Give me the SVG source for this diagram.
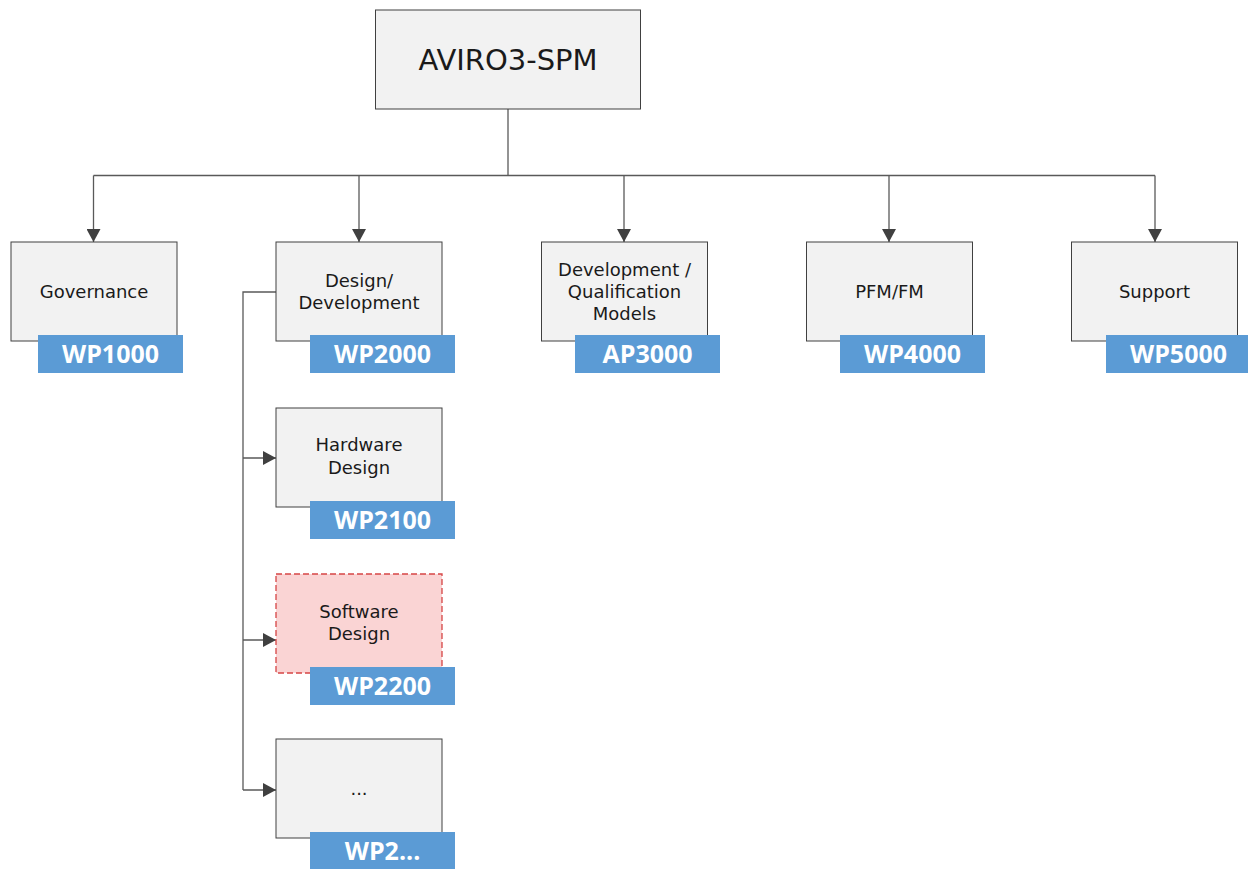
<svg xmlns="http://www.w3.org/2000/svg" width="1248" height="869" viewBox="0 0 1248 869">
  <defs>
    <marker id="arrow" viewBox="0 0 13 14" refX="13" refY="7" markerWidth="13" markerHeight="14" markerUnits="userSpaceOnUse" orient="auto">
      <path d="M0,0 L13,7 L0,14 Z" fill="#404040"/>
    </marker>
    <style>
      .box { fill: #f2f2f2; stroke: #404040; stroke-width: 1; }
      .box-sw { fill: #fad4d4; stroke: #d64545; stroke-width: 1.3; stroke-dasharray: 6 3; }
      .tag { fill: #5b9bd5; }
      .txt { font-family: "DejaVu Sans", Verdana, sans-serif; font-size: 18px; fill: #1a1a1a; text-anchor: middle; }
      .title { font-family: "DejaVu Sans", Verdana, sans-serif; font-size: 29px; fill: #1a1a1a; text-anchor: middle; }
      .tagtxt { font-family: "Open Sans", "Liberation Sans", sans-serif; font-weight: 700; font-size: 25px; fill: #ffffff; text-anchor: middle; }
      .wire { fill: none; stroke: #595959; stroke-width: 1.3; }
    </style>
  </defs>
  <rect width="1248" height="869" fill="#ffffff"/>

  <!-- connectors -->
  <g id="connectors">
    <path class="wire" d="M508,109 V175.5"/>
    <path class="wire" d="M93.5,175.5 H1155"/>
    <path class="wire" d="M93.5,175.5 V242" marker-end="url(#arrow)"/>
    <path class="wire" d="M359,175.5 V242" marker-end="url(#arrow)"/>
    <path class="wire" d="M624,175.5 V242" marker-end="url(#arrow)"/>
    <path class="wire" d="M889,175.5 V242" marker-end="url(#arrow)"/>
    <path class="wire" d="M1155,175.5 V242" marker-end="url(#arrow)"/>
    <path class="wire" d="M276,292 H243 V790"/>
    <path class="wire" d="M243,458 H276" marker-end="url(#arrow)"/>
    <path class="wire" d="M243,640 H276" marker-end="url(#arrow)"/>
    <path class="wire" d="M243,790 H276" marker-end="url(#arrow)"/>
  </g>

  <!-- root -->
  <g id="root">
    <rect class="box" x="375.5" y="10" width="265" height="99"/>
    <text class="title" x="508" y="69.5">AVIRO3-SPM</text>
  </g>

  <g id="governance">
    <rect class="box" x="11" y="242" width="166" height="99"/>
    <text class="txt" x="94" y="298">Governance</text>
    <rect class="tag" x="38" y="335" width="145" height="38"/>
    <text class="tagtxt" x="110.5" y="363">WP1000</text>
  </g>

  <g id="design-development">
    <rect class="box" x="276" y="242" width="166" height="99"/>
    <text class="txt" x="359" y="286.5">Design/</text>
    <text class="txt" x="359" y="309">Development</text>
    <rect class="tag" x="310" y="335" width="145" height="38"/>
    <text class="tagtxt" x="382.5" y="363">WP2000</text>
  </g>

  <g id="dev-qual-models">
    <rect class="box" x="541.5" y="242" width="166" height="99"/>
    <text class="txt" x="624.5" y="276">Development /</text>
    <text class="txt" x="624.5" y="298">Qualification</text>
    <text class="txt" x="624.5" y="320">Models</text>
    <rect class="tag" x="575" y="335" width="145" height="38"/>
    <text class="tagtxt" x="647.5" y="363">AP3000</text>
  </g>

  <g id="pfm-fm">
    <rect class="box" x="806.5" y="242" width="166" height="99"/>
    <text class="txt" x="889.5" y="297.5">PFM/FM</text>
    <rect class="tag" x="840" y="335" width="145" height="38"/>
    <text class="tagtxt" x="912.5" y="363">WP4000</text>
  </g>

  <g id="support">
    <rect class="box" x="1071.5" y="242" width="166" height="99"/>
    <text class="txt" x="1154.5" y="297.5">Support</text>
    <rect class="tag" x="1106" y="335" width="145" height="38"/>
    <text class="tagtxt" x="1178.5" y="363">WP5000</text>
  </g>

  <g id="hardware-design">
    <rect class="box" x="276" y="408" width="166" height="99"/>
    <text class="txt" x="359" y="451">Hardware</text>
    <text class="txt" x="359" y="474">Design</text>
    <rect class="tag" x="310" y="501" width="145" height="38"/>
    <text class="tagtxt" x="382.5" y="529">WP2100</text>
  </g>

  <g id="software-design">
    <rect class="box-sw" x="276" y="574" width="166" height="99"/>
    <text class="txt" x="359" y="618">Software</text>
    <text class="txt" x="359" y="640">Design</text>
    <rect class="tag" x="310" y="667" width="145" height="38"/>
    <text class="tagtxt" x="382.5" y="695">WP2200</text>
  </g>

  <g id="more">
    <rect class="box" x="276" y="739" width="166" height="99"/>
    <text class="txt" x="359" y="795">...</text>
    <rect class="tag" x="310" y="832" width="145" height="38"/>
    <text class="tagtxt" x="382.5" y="860">WP2...</text>
  </g>
</svg>
